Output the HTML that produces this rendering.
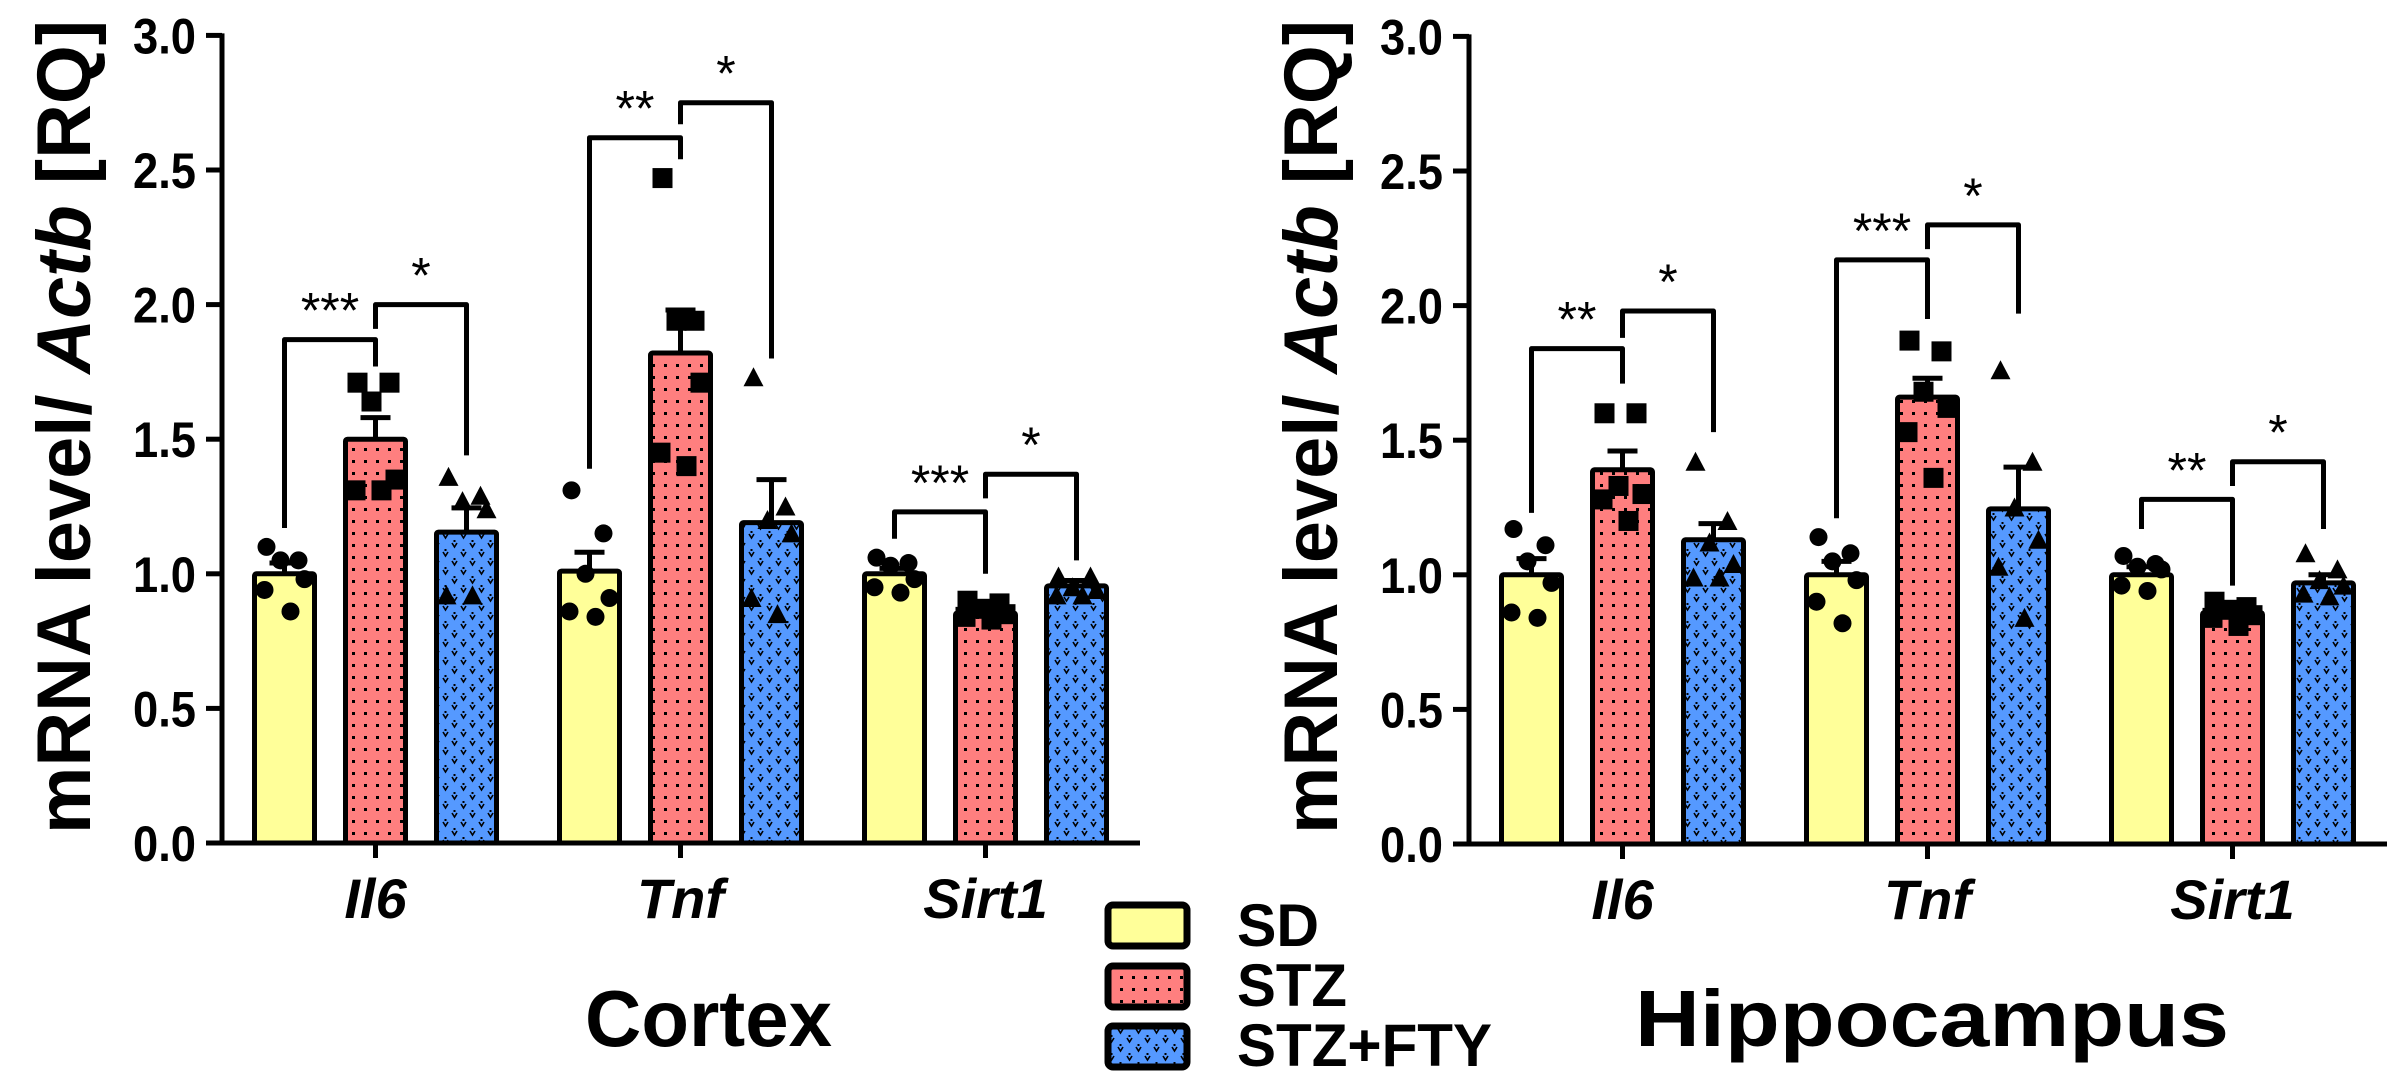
<!DOCTYPE html>
<html><head><meta charset="utf-8">
<style>
html,body{margin:0;padding:0;background:#fff;}
svg{display:block;font-family:"Liberation Sans",Arial,sans-serif;}
</style></head>
<body>
<svg id="fig" width="2402" height="1086" viewBox="0 0 2402 1086" xmlns="http://www.w3.org/2000/svg">
<defs>
  <pattern id="dots" width="12" height="12" patternUnits="userSpaceOnUse">
    <rect width="12" height="12" fill="#FF7F7F"/>
    <rect x="4" y="4" width="3" height="3" fill="#000"/>
  </pattern>
  <pattern id="vees" width="18" height="18" patternUnits="userSpaceOnUse">
    <rect width="18" height="18" fill="#5599FF"/>
    <path d="M2 3 L4.5 7 L7 3 M11 12 L13.5 16 L16 12" stroke="#000" stroke-width="1.6" fill="none"/>
    <rect x="3.5" y="0" width="2" height="2" fill="#000"/>
    <rect x="12.5" y="9" width="2" height="2" fill="#000"/>
  </pattern>
</defs>
<g id="charts"></g>
<g id="legend">
  <rect x="1108" y="905" width="79" height="41" rx="5" fill="#FFFF99" stroke="#000" stroke-width="7"/>
  <rect x="1108" y="966" width="79" height="41" rx="5" fill="url(#dots)" stroke="#000" stroke-width="7"/>
  <rect x="1108" y="1026" width="79" height="41" rx="5" fill="url(#vees)" stroke="#000" stroke-width="7"/>
  <text x="1237" y="946" font-size="60" font-weight="bold" textLength="82" lengthAdjust="spacingAndGlyphs">SD</text>
  <text x="1237" y="1006" font-size="60" font-weight="bold" textLength="110" lengthAdjust="spacingAndGlyphs">STZ</text>
  <text x="1237" y="1066" font-size="60" font-weight="bold" textLength="255" lengthAdjust="spacingAndGlyphs">STZ+FTY</text>
</g>
</svg>
<script>
const categories = ['Il6', 'Tnf', 'Sirt1'];
const groups = ['SD', 'STZ', 'STZ+FTY'];
const yTicks = [0.0, 0.5, 1.0, 1.5, 2.0, 2.5, 3.0];
const yTickLabels = ['0.0', '0.5', '1.0', '1.5', '2.0', '2.5', '3.0'];

const cortexMeans = [[1.00, 1.50, 1.155], [1.01, 1.82, 1.19], [1.00, 0.855, 0.955]];
const cortexSem = [[0.04, 0.08, 0.09], [0.07, 0.16, 0.16], [0.02, 0.02, 0.02]];
const cortexPoints = [
  [[1.10, 1.05, 1.05, 0.98, 0.94, 0.86], [1.71, 1.71, 1.64, 1.35, 1.31, 1.31], [1.36, 1.29, 1.27, 1.24, 0.92, 0.92]],
  [[1.31, 1.15, 1.00, 0.91, 0.86, 0.84], [2.47, 1.94, 1.94, 1.71, 1.45, 1.40], [1.73, 1.25, 1.20, 1.15, 0.91, 0.85]],
  [[1.06, 1.04, 1.03, 0.98, 0.95, 0.93], [0.90, 0.89, 0.87, 0.85, 0.84, 0.83], [0.99, 0.99, 0.95, 0.94, 0.92, 0.92]]
];
const cortexBrackets = [
  [0, 0, 1, 1.87, 1.17, 1.77, '***'], [0, 1, 2, 2.00, 1.91, 1.44, '*'],
  [1, 0, 1, 2.62, 1.39, 2.54, '**'], [1, 1, 2, 2.75, 2.67, 1.80, '*'],
  [2, 0, 1, 1.23, 1.13, 1.00, '***'], [2, 1, 2, 1.37, 1.28, 1.05, '*']
];

const hippoMeans = [[1.00, 1.39, 1.13], [1.00, 1.66, 1.245], [1.00, 0.86, 0.97]];
const hippoSem = [[0.06, 0.07, 0.06], [0.05, 0.07, 0.155], [0.03, 0.02, 0.03]];
const hippoPoints = [
  [[1.17, 1.11, 1.05, 0.97, 0.86, 0.84], [1.60, 1.60, 1.33, 1.30, 1.28, 1.20], [1.42, 1.20, 1.12, 1.04, 0.99, 0.99]],
  [[1.14, 1.08, 1.05, 0.98, 0.90, 0.82], [1.87, 1.83, 1.68, 1.62, 1.53, 1.36], [1.76, 1.42, 1.25, 1.13, 1.03, 0.84]],
  [[1.07, 1.04, 1.03, 1.02, 0.96, 0.94], [0.90, 0.88, 0.87, 0.85, 0.84, 0.81], [1.08, 1.02, 0.98, 0.96, 0.93, 0.92]]
];
const hippoBrackets = [
  [0, 0, 1, 1.84, 1.23, 1.71, '**'], [0, 1, 2, 1.98, 1.88, 1.53, '*'],
  [1, 0, 1, 2.17, 1.21, 1.95, '***'], [1, 1, 2, 2.30, 2.21, 1.97, '*'],
  [2, 0, 1, 1.28, 1.17, 0.96, '**'], [2, 1, 2, 1.42, 1.33, 1.17, '*']
];

const NS = 'http://www.w3.org/2000/svg';
const fills = ['#FFFF99', 'url(#dots)', 'url(#vees)'];
const jitter = [-18, 14, -4, 20, -20, 6];

function mk(parent, tag, attrs, text) {
  const e = document.createElementNS(NS, tag);
  for (const k in attrs) e.setAttribute(k, attrs[k]);
  if (text !== undefined) e.textContent = text;
  parent.appendChild(e);
  return e;
}

function drawChart(axisX, zeroY, title, titleX, titleLen, means, sems, points, brackets, key) {
  const root = document.getElementById('charts');
  const g = mk(root, 'g', {});
  
  
  const yScale = v => zeroY - v * 269.2;
  const groupX = c => axisX + 153.5 + c * 305;
  const barX = (c, k) => groupX(c) + (k - 1) * 91;

  const yt = mk(g, 'text', {transform: 'translate(' + (axisX - 132) + ',427) rotate(-90)', 'text-anchor': 'middle', 'font-size': '76', 'font-weight': 'bold', textLength: '814', lengthAdjust: 'spacingAndGlyphs'});
  
  
  mk(yt, 'tspan', {}, 'mRNA level/ ');
  mk(yt, 'tspan', {'font-style': 'italic'}, 'Actb');
  mk(yt, 'tspan', {}, ' [RQ]');

  for (let c = 0; c < categories.length; c++) {
    for (let k = 0; k < groups.length; k++) {
      const cx = barX(c, k);
      const top = yScale(means[c][k]);
      const bar = mk(g, 'rect', {x: cx - 30, y: top, width: 60, height: zeroY - top, fill: fills[k], stroke: '#000', 'stroke-width': 5, rx: 2});
      
      
      const capY = yScale(means[c][k] + sems[c][k]);
      const eb = mk(g, 'path', {d: 'M' + cx + ' ' + top + ' V' + capY + ' M' + (cx - 15) + ' ' + capY + ' H' + (cx + 15), stroke: '#000', 'stroke-width': 5, fill: 'none'});
      
      
      const pts = points[c][k];
      for (let i = 0; i < pts.length; i++) {
        const px = cx + jitter[i];
        const py = yScale(pts[i]);
        let m;
        if (k === 0) m = mk(g, 'circle', {cx: px, cy: py, r: 9, fill: '#000'});
        else if (k === 1) m = mk(g, 'rect', {x: px - 10, y: py - 10, width: 20, height: 20, fill: '#000'});
        else m = mk(g, 'path', {d: 'M' + px + ' ' + (py - 10) + ' L' + (px + 10) + ' ' + (py + 9) + ' L' + (px - 10) + ' ' + (py + 9) + 'Z', fill: '#000'});
        
        
      }
    }
    const ct = mk(g, 'path', {d: 'M' + groupX(c) + ' ' + zeroY + ' V' + (zeroY + 15), stroke: '#000', 'stroke-width': 5});
    
    
    const cl = mk(g, 'text', {x: groupX(c), y: zeroY + 75, 'text-anchor': 'middle', 'font-size': '56', 'font-weight': 'bold', 'font-style': 'italic'}, categories[c]);
    
    
  }

  const ya = mk(g, 'path', {d: 'M' + axisX + ' ' + (yScale(3) - 2) + ' V' + (zeroY + 2.5), stroke: '#000', 'stroke-width': 5, fill: 'none'});
  
  
  const xa = mk(g, 'path', {d: 'M' + (axisX - 16) + ' ' + zeroY + ' H' + (axisX + 918), stroke: '#000', 'stroke-width': 5});
  
  
  for (let i = 0; i < yTicks.length; i++) {
    const y = yScale(yTicks[i]);
    const t = mk(g, 'path', {d: 'M' + (axisX - 16) + ' ' + y + ' H' + axisX, stroke: '#000', 'stroke-width': 5});
    
    
    const tl = mk(g, 'text', {x: axisX - 26, y: y + 18, 'text-anchor': 'end', 'font-size': '50', 'font-weight': 'bold', textLength: '63', lengthAdjust: 'spacingAndGlyphs'}, yTickLabels[i]);
    
    
  }

  for (const b of brackets) {
    const x1 = barX(b[0], b[1]), x2 = barX(b[0], b[2]);
    const yt2 = yScale(b[3]);
    const br = mk(g, 'path', {d: 'M' + x1 + ' ' + yScale(b[4]) + ' V' + yt2 + ' H' + x2 + ' V' + yScale(b[5]), stroke: '#000', 'stroke-width': 5, fill: 'none', 'stroke-linejoin': 'round'});
    
    
    const st = mk(g, 'text', {x: (x1 + x2) / 2, y: yt2 - 12, 'text-anchor': 'middle', 'font-size': '50'}, b[6]);
    
    
  }

  const tt = mk(g, 'text', {x: titleX, y: 1046, 'font-size': '80', 'font-weight': 'bold', textLength: titleLen, lengthAdjust: 'spacingAndGlyphs'}, title);
  
  
}

drawChart(222, 843, 'Cortex', 585, 247, cortexMeans, cortexSem, cortexPoints, cortexBrackets, 'cortex');
drawChart(1469, 844, 'Hippocampus', 1635, 594, hippoMeans, hippoSem, hippoPoints, hippoBrackets, 'hippocampus');
</script>
</body></html>
